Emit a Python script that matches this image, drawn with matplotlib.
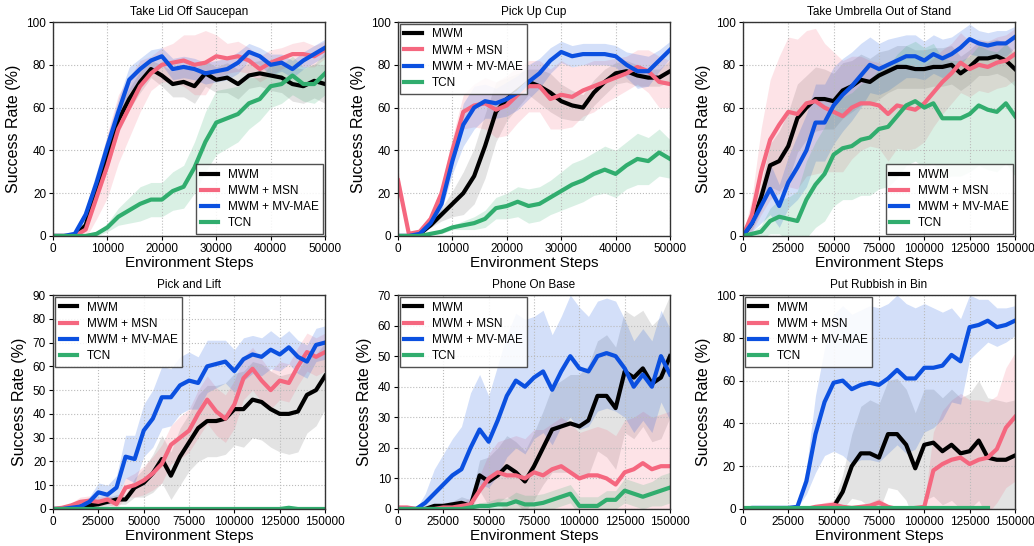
import numpy as np
import matplotlib
matplotlib.use("Agg")
import matplotlib.pyplot as plt

plt.rcParams['font.family'] = ['Liberation Sans', 'DejaVu Sans']

labels = ["MWM", "MWM + MSN", "MWM + MV-MAE", "TCN"]
colors = ["#000000", "#F5677F", "#0B50E0", "#31AD6E"]

steps_50k = np.arange(0, 50001, 2000)
steps_150k = np.arange(0, 150001, 5000)

# Take Lid Off Saucepan
lid_mwm = [0, 0, 0, 5, 22, 37, 54, 64, 72, 78, 75, 71, 72, 70, 76, 73, 74, 71, 75, 76, 75, 74, 71, 70, 72.5, 71]
lid_msn = [0, 0, 0, 3, 18, 33, 50, 60, 70, 76, 80, 81, 82, 80, 81, 84, 83, 84, 82, 78, 81, 83, 85, 85, 84, 87]
lid_mae = [0, 0, 1, 10, 25, 42, 58, 73, 78, 82, 84, 78, 79, 78, 76, 77, 78, 81, 86, 84, 80, 81, 78, 82, 85, 88]
lid_tcn = [0, 0, 0, 0, 1, 4, 9, 12, 15, 17, 17, 21, 23, 32, 44, 53, 55, 57, 62, 64, 70, 71, 75, 71, 71, 76]
lid_mwm_sd = [0, 0, 0, 2, 5, 6, 6, 5, 5, 4, 5, 6, 7, 8, 6, 6, 7, 7, 6, 6, 7, 7, 8, 8, 8, 9]
lid_msn_sd = [0, 0, 1, 4, 10, 15, 16, 14, 12, 8, 8, 9, 12, 14, 15, 10, 7, 7, 6, 6, 6, 5, 5, 6, 5, 4]
lid_mae_sd = [0, 0, 1, 3, 5, 5, 6, 6, 5, 5, 4, 5, 5, 5, 5, 5, 5, 5, 4, 4, 5, 4, 4, 4, 4, 4]
lid_tcn_sd = [0, 0, 0, 0, 1, 2, 4, 6, 8, 8, 8, 9, 10, 12, 14, 15, 14, 13, 12, 10, 10, 9, 9, 8, 9, 10]

# Pick Up Cup
cup_mwm = [0, 0, 1, 5, 10, 15, 20, 28, 42, 58, 64, 68, 72, 70, 67, 63, 61, 60, 67, 72, 76, 77, 75, 74, 74, 77]
cup_msn = [26, 1, 2, 8, 20, 40, 58, 61, 62, 59, 61, 66, 70, 70, 64, 66, 65, 68, 70, 72, 74, 76, 79, 77, 72, 71]
cup_mae = [0, 0, 1, 6, 15, 35, 52, 60, 63, 62, 64, 67, 72, 76, 82, 86, 84, 85, 85, 85, 84, 80, 77, 77, 82, 87]
cup_tcn = [0, 0, 0, 1, 2, 4, 5, 6, 8, 13, 14, 16, 14, 15, 18, 21, 24, 26, 29, 31, 29, 33, 36, 35, 39, 36]
cup_mwm_sd = [0, 0, 0, 1, 3, 6, 10, 13, 15, 14, 10, 8, 6, 8, 9, 8, 7, 6, 6, 6, 5, 5, 5, 4, 4, 5]
cup_msn_sd = [5, 1, 1, 2, 4, 6, 8, 10, 12, 13, 14, 13, 12, 12, 14, 16, 14, 12, 12, 10, 9, 8, 8, 10, 12, 11]
cup_mae_sd = [0, 0, 0, 1, 3, 6, 10, 10, 8, 7, 8, 8, 8, 7, 6, 5, 5, 5, 5, 5, 5, 6, 8, 7, 5, 4]
cup_tcn_sd = [0, 0, 0, 0, 1, 1, 2, 3, 4, 5, 6, 7, 8, 8, 8, 9, 10, 10, 10, 11, 11, 11, 12, 11, 11, 9]

# Take Umbrella Out of Stand
umb_mwm = [0, 6, 18, 33, 35, 42, 55, 60, 64, 64, 63, 68, 70, 73, 72, 75, 77, 79, 79, 78, 78, 79, 79, 80, 76, 79, 83, 83, 84, 82, 78]
umb_msn = [0, 10, 30, 45, 52, 58, 57, 62, 63, 60, 58, 56, 60, 62, 62, 61, 57, 61, 60, 59, 62, 67, 72, 76, 81, 78, 80, 79, 81, 82, 85]
umb_mae = [0, 6, 14, 22, 14, 25, 32, 40, 53, 53, 61, 66, 70, 75, 80, 78, 80, 82, 84, 84, 82, 85, 83, 85, 88, 92, 90, 89, 90, 90, 93]
umb_tcn = [0, 1, 2, 7, 9, 8, 7, 17, 24, 29, 38, 41, 42, 45, 46, 50, 51, 56, 61, 63, 60, 62, 55, 55, 55, 57, 61, 59, 58, 62, 56]
umb_mwm_sd = [0, 3, 6, 10, 14, 16, 16, 15, 15, 14, 13, 13, 12, 12, 11, 11, 10, 10, 10, 9, 9, 9, 9, 9, 8, 8, 8, 8, 8, 8, 8]
umb_msn_sd = [0, 8, 20, 28, 32, 35, 35, 34, 34, 30, 28, 26, 24, 22, 20, 20, 22, 20, 20, 18, 18, 16, 15, 14, 14, 13, 12, 12, 12, 12, 12]
umb_mae_sd = [0, 4, 8, 12, 10, 12, 15, 17, 18, 18, 18, 17, 16, 15, 13, 12, 12, 11, 10, 10, 9, 9, 9, 8, 8, 7, 6, 6, 6, 6, 5]
umb_tcn_sd = [0, 1, 3, 6, 8, 10, 14, 18, 20, 22, 24, 24, 25, 26, 27, 28, 28, 29, 28, 28, 28, 28, 28, 27, 27, 27, 28, 28, 28, 28, 28]

# Pick and Lift
lift_mwm = [0, 0, 0.5, 1, 1.5, 2, 3, 4, 4, 9, 11, 15, 21, 14, 22, 28, 34, 37, 37, 38, 42, 42, 46, 45, 42, 40, 40, 41, 48, 50, 56]
lift_msn = [0, 0.5, 1.5, 3, 3.5, 3, 4, 2, 9, 10, 12, 15, 19, 27, 30, 33, 40, 46, 41, 38, 44, 55, 59, 54, 50, 54, 53, 60, 66, 64, 66]
lift_mae = [0, 0, 0.5, 1, 3, 7, 6, 9, 22, 21, 33, 38, 47, 47, 52, 54, 53, 60, 61, 62, 58, 63, 65, 64, 67, 65, 68, 64, 62, 69, 70]
lift_tcn = [0, 0, 0, 0, 0, 0, 0, 0, 0, 0, 0, 0, 0, 0, 0, 0, 0, 0, 0, 0, 0, 0, 0, 0, 0, 0, 0.5, 0, 0, 0, 0]
lift_mwm_sd = [0, 0, 0.5, 1, 1, 1.5, 2, 2, 2, 4, 6, 8, 10, 10, 12, 12, 14, 15, 15, 15, 15, 16, 16, 16, 16, 16, 17, 17, 16, 15, 14]
lift_msn_sd = [0, 0.5, 1, 2, 2, 2, 2, 2, 4, 5, 6, 7, 8, 8, 9, 9, 10, 10, 10, 10, 10, 9, 9, 9, 8, 8, 8, 8, 8, 8, 8]
lift_mae_sd = [0, 0, 0.5, 1, 2, 4, 4, 5, 9, 10, 11, 12, 13, 12, 12, 12, 11, 11, 10, 9, 9, 9, 8, 8, 8, 7, 7, 7, 7, 7, 7]
lift_tcn_sd = [0, 0, 0, 0, 0, 0, 0, 0, 0, 0, 0, 0, 0, 0, 0, 0, 0, 0, 0, 0, 0, 0, 0, 0, 0, 0, 0.5, 0, 0, 0, 0]

# Phone On Base
phone_mwm = [0, 0, 0, 0, 1, 1, 1.5, 2, 1, 11, 9, 11, 14, 12, 9, 14, 20, 26, 27, 28, 27, 29, 37, 37, 33, 45, 43, 46, 41, 43, 50]
phone_msn = [0.5, 0.5, 0, 0, 0, 0.5, 0.5, 1, 1.5, 6, 10, 12, 11, 11, 10, 12, 11, 13, 14, 12, 10, 11, 11, 10, 8, 12, 13, 15, 13, 14, 14]
phone_mae = [0, 0, 0, 2, 5, 8, 11, 13, 20, 26, 22, 29, 37, 42, 40, 43, 45, 39, 45, 50, 46, 45, 50, 51, 50, 46, 40, 44, 40, 50, 44]
phone_tcn = [0, 0, 0, 0, 0, 0, 0, 0, 0.5, 1, 1, 1.5, 1.5, 2.5, 1.5, 1.5, 2, 3, 4, 5, 1, 1, 1, 3, 3, 6, 5, 4, 5, 6, 7]
phone_mwm_sd = [0, 0, 0, 0, 1, 1, 1, 2, 2, 5, 8, 9, 10, 10, 10, 11, 12, 14, 15, 16, 17, 18, 18, 20, 20, 20, 20, 19, 19, 20, 20]
phone_msn_sd = [0.5, 0.5, 0.5, 0.5, 0.5, 1, 1, 1.5, 2, 5, 8, 10, 12, 13, 13, 14, 15, 15, 16, 16, 15, 15, 16, 16, 16, 17, 17, 17, 17, 17, 18]
phone_mae_sd = [0, 0, 0, 3, 8, 10, 12, 14, 18, 18, 15, 18, 20, 22, 22, 20, 20, 18, 18, 20, 20, 18, 18, 18, 18, 16, 15, 15, 15, 15, 15]
phone_tcn_sd = [0, 0, 0, 0, 0, 0, 0, 0, 0.5, 1, 1.5, 2, 2, 3, 3, 3, 3, 3, 3, 3, 3, 3, 3, 3, 3, 4, 4, 4, 4, 5, 5]

# Put Rubbish in Bin
bin_mwm = [0, 0, 0, 0, 0, 0, 0, 0, 0, 0, 1, 8, 20, 26, 26, 24, 35, 35, 30, 19, 30, 31, 27, 30, 26, 27, 32, 24, 23, 23, 25]
bin_msn = [0, 0, 0, 0, 0, 0, 0, 0, 1, 1.5, 2, 1, 0.5, 1, 1.5, 3, 1, 0, 0, 0.5, 1, 18, 21, 23, 24, 21, 23, 24, 28, 38, 43]
bin_mae = [0, 0.5, 0.5, 0.5, 0.5, 0.5, 1, 13, 35, 50, 59, 60, 56, 58, 59, 58, 61, 65, 61, 61, 66, 66, 67, 72, 69, 85, 86, 88, 85, 86, 88]
bin_tcn = [0.5] * 28 + [np.nan] * 3
bin_mwm_sd = [0, 0, 0, 0, 0, 0, 0, 0, 0, 1, 2, 8, 15, 22, 25, 25, 25, 26, 26, 26, 26, 25, 25, 26, 26, 27, 28, 28, 28, 27, 26]
bin_msn_sd = [0, 0, 0, 0, 0, 0, 0, 0, 1, 1.5, 2, 1, 1, 1, 1.5, 2, 1, 0.5, 0.5, 0.5, 1, 18, 25, 28, 30, 30, 28, 26, 25, 28, 30]
bin_mae_sd = [0, 0.5, 0.5, 0.5, 0.5, 0.5, 0.5, 6, 18, 25, 32, 35, 35, 35, 36, 36, 35, 35, 35, 33, 30, 28, 25, 22, 20, 15, 12, 10, 9, 8, 7]
bin_tcn_sd = [0] * 28 + [np.nan] * 3

panels = [
    ("Take Lid Off Saucepan", steps_50k, [lid_mwm, lid_msn, lid_mae, lid_tcn],
     [lid_mwm_sd, lid_msn_sd, lid_mae_sd, lid_tcn_sd], 100, 20, "lower right"),
    ("Pick Up Cup", steps_50k, [cup_mwm, cup_msn, cup_mae, cup_tcn],
     [cup_mwm_sd, cup_msn_sd, cup_mae_sd, cup_tcn_sd], 100, 20, "upper left"),
    ("Take Umbrella Out of Stand", steps_150k, [umb_mwm, umb_msn, umb_mae, umb_tcn],
     [umb_mwm_sd, umb_msn_sd, umb_mae_sd, umb_tcn_sd], 100, 20, "lower right"),
    ("Pick and Lift", steps_150k, [lift_mwm, lift_msn, lift_mae, lift_tcn],
     [lift_mwm_sd, lift_msn_sd, lift_mae_sd, lift_tcn_sd], 90, 10, "upper left"),
    ("Phone On Base", steps_150k, [phone_mwm, phone_msn, phone_mae, phone_tcn],
     [phone_mwm_sd, phone_msn_sd, phone_mae_sd, phone_tcn_sd], 70, 10, "upper left"),
    ("Put Rubbish in Bin", steps_150k, [bin_mwm, bin_msn, bin_mae, bin_tcn],
     [bin_mwm_sd, bin_msn_sd, bin_mae_sd, bin_tcn_sd], 100, 20, "upper left"),
]

fig, axes = plt.subplots(2, 3, figsize=(10.34, 5.46), dpi=100)
fig.subplots_adjust(left=0.0513, right=0.9816, top=0.9597, bottom=0.0678,
                    wspace=0.268, hspace=0.276)

for ax, (title, x, means, sds, ymax, ystep, loc) in zip(axes.flat, panels):
    for mean, sd, lab, col in zip(means, sds, labels, colors):
        mean = np.array(mean, dtype=float)
        sd = np.array(sd, dtype=float)
        band_col = "#666666" if col == "#000000" else col
        ax.fill_between(x, mean - sd, mean + sd, color=band_col, alpha=0.18, linewidth=0)
        ax.plot(x, mean, color=col, linewidth=3.0, label=lab)
    ax.set_xlim(0, x[-1])
    ax.set_ylim(0, ymax)
    ax.set_yticks(np.arange(0, ymax + 1, ystep))
    if x[-1] == 50000:
        ax.set_xticks(np.arange(0, 50001, 10000))
    else:
        ax.set_xticks(np.arange(0, 150001, 25000))
    ax.set_title(title, fontsize=8.5, pad=5)
    ax.set_xlabel("Environment Steps", fontsize=11, labelpad=1)
    ax.set_ylabel("Success Rate (%)", fontsize=11.5, labelpad=4)
    ax.tick_params(labelsize=8.5, length=3, width=0.8, pad=2)
    ax.grid(True, linestyle=':', color='#bbbbbb', linewidth=0.8)
    for s in ax.spines.values():
        s.set_color('#333333')
        s.set_linewidth(1.0)
    leg = ax.legend(loc=loc, fontsize=8.5, fancybox=False, framealpha=0.85,
                    edgecolor='#333333', handlelength=1.5, borderpad=0.4,
                    labelspacing=0.35, borderaxespad=0.15, handletextpad=0.8)
    leg.get_frame().set_linewidth(1.0)

plt.savefig("out.png", dpi=100)
